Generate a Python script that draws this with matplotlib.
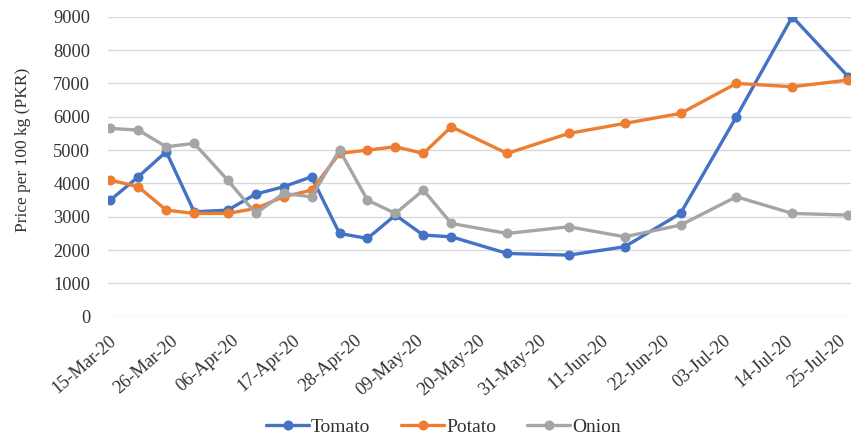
import matplotlib
matplotlib.use("Agg")
import matplotlib.pyplot as plt
import matplotlib.dates as mdates
import matplotlib.transforms as mtransforms
import pandas as pd

# Observation dates
dates = pd.to_datetime([
    "2020-03-15", "2020-03-20", "2020-03-25", "2020-03-30", "2020-04-05",
    "2020-04-10", "2020-04-15", "2020-04-20", "2020-04-25", "2020-04-30",
    "2020-05-05", "2020-05-10", "2020-05-15", "2020-05-25", "2020-06-05",
    "2020-06-15", "2020-06-25", "2020-07-05", "2020-07-15", "2020-07-25",
])

# Prices per 100 kg (PKR)
tomato = [3500, 4200, 4950, 3150, 3200, 3680, 3900, 4200, 2500, 2350,
          3050, 2450, 2400, 1900, 1850, 2100, 3100, 6000, 9000, 7200]
potato = [4100, 3900, 3200, 3100, 3100, 3250, 3600, 3800, 4900, 5000,
          5100, 4900, 5700, 4900, 5500, 5800, 6100, 7000, 6900, 7100]
onion = [5650, 5600, 5100, 5200, 4100, 3100, 3700, 3600, 5000, 3500,
         3100, 3800, 2800, 2500, 2700, 2400, 2750, 3600, 3100, 3050]

tick_dates = pd.date_range("2020-03-15", "2020-07-25", freq="11D")
y_ticks = list(range(0, 9001, 1000))

series = [("Tomato", tomato, "#4472C4"),
          ("Potato", potato, "#ED7D31"),
          ("Onion", onion, "#A5A5A5")]

plt.rcParams["font.family"] = ["Liberation Serif", "DejaVu Serif"]
text_color = "#333333"

fig = plt.figure(figsize=(8.51, 4.40), dpi=100)
ax = fig.add_axes([0.127, 0.280, 0.873, 0.682])

for name, vals, color in series:
    ax.plot(dates, vals, color=color, lw=2.4, marker="o", markersize=6.2,
            label=name, solid_capstyle="round")

ax.set_ylim(0, 9000)
ax.set_yticks(y_ticks)
ax.set_xlim(dates[0] - pd.Timedelta(days=0.4), dates[-1] + pd.Timedelta(days=0.5))
ax.set_xticks(tick_dates)
ax.xaxis.set_major_formatter(mdates.DateFormatter("%d-%b-%y"))

ax.grid(axis="y", color="#D9D9D9", lw=1.0)
ax.set_axisbelow(True)
for sp in ax.spines.values():
    sp.set_visible(False)
ax.tick_params(axis="both", length=0, labelsize=13.2, colors=text_color)
ax.tick_params(axis="y", pad=13)
ax.tick_params(axis="x", pad=11)

fig.canvas.draw()
xlabels = ax.get_xticklabels()
for i, lbl in enumerate(xlabels):
    lbl.set_rotation(41)
    lbl.set_ha("right")
    lbl.set_rotation_mode("anchor")
    # nudge labels slightly left; the last one a bit more so it stays on the canvas
    dx = -10 if i == len(xlabels) - 1 else -2
    lbl.set_transform(lbl.get_transform() +
                      mtransforms.ScaledTranslation(dx / 100, 0, fig.dpi_scale_trans))

ax.set_ylabel("Price per 100 kg (PKR)", fontsize=12.5, color=text_color)
ax.yaxis.set_label_coords(-0.104, 0.555)

fig.legend(loc="center", bbox_to_anchor=(0.521, 0.029), ncol=3, frameon=False,
           fontsize=14, handlelength=2.2, columnspacing=1.6, handletextpad=0.1,
           labelcolor=text_color)

fig.savefig("out.png", dpi=100)
